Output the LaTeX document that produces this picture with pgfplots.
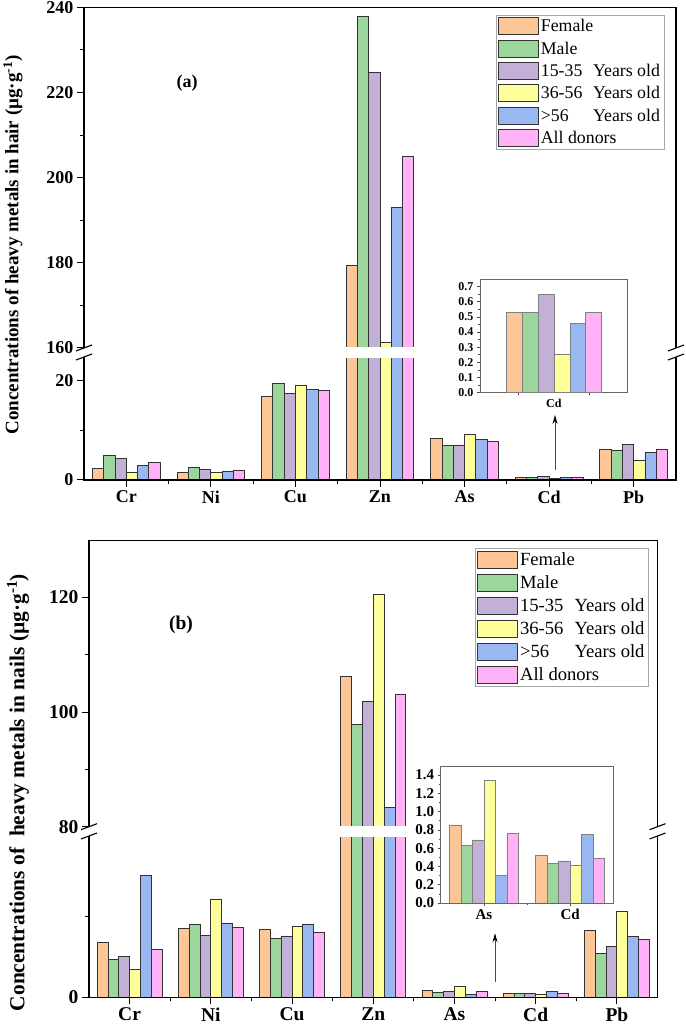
\documentclass[border=0pt]{standalone}
\usepackage{pgfplots}
\pgfplotsset{compat=1.18}
\usepackage{pgfplotstable}
\usepackage{fontspec}
\setmainfont{Liberation Serif}
\usetikzlibrary{arrows.meta}

\definecolor{cF}{RGB}{252,198,150}
\definecolor{cM}{RGB}{156,214,156}
\definecolor{cA}{RGB}{194,176,214}
\definecolor{cB}{RGB}{255,255,153}
\definecolor{cC}{RGB}{153,183,240}
\definecolor{cD}{RGB}{255,178,245}

% hair (a)
\pgfplotstableread{
x F M A B C D
0 2.36 5.05 4.44 1.48 2.96 3.50
1 1.55 2.63 2.22 1.48 1.82 1.95
2 16.9 19.46 17.5 19.1 18.3 18.0
3 179.3 237.9 224.8 161.2 193.0 204.9
4 8.35 6.9 7.07 9.3 8.2 7.7
5 0.53 0.53 0.65 0.25 0.455 0.53
6 6.2 6.06 7.2 3.9 5.6 6.13
}\hair
\pgfplotstableread{
x F M A B C D
3 179.3 237.9 224.8 161.2 193.0 204.9
}\hairZn
\pgfplotstableread{
x F M A B C D
0 0.53 0.53 0.65 0.25 0.455 0.53
}\hairCd
% nails (b)
\pgfplotstableread{
x F M A B C D
0 6.83 4.65 5.02 3.5 15.06 6.0
1 8.52 9.1 7.7 12.19 9.22 8.68
2 8.43 7.28 7.61 8.77 9.1 8.02
3 106.2 97.9 101.9 120.6 83.4 103.1
4 0.856 0.632 0.69 1.338 0.298 0.764
5 0.52 0.434 0.46 0.415 0.75 0.49
6 8.27 5.47 6.3 10.6 7.53 7.2
}\nails
\pgfplotstableread{
x F M A B C D
3 106.2 97.9 101.9 120.6 83.4 103.1
}\nailsZn
\pgfplotstableread{
x F M A B C D
0 0.856 0.632 0.69 1.338 0.298 0.764
1 0.52 0.434 0.46 0.415 0.75 0.49
}\nailsAsCd

\pgfplotsset{
  b1/.style={fill=cF, bar shift=-0.3333},
  b2/.style={fill=cM, bar shift=-0.2},
  b3/.style={fill=cA, bar shift=-0.0667},
  b4/.style={fill=cB, bar shift=0.0667},
  b5/.style={fill=cC, bar shift=0.2},
  b6/.style={fill=cD, bar shift=0.3333},
  main/.style={scale only axis, anchor=south west, ybar, bar width=0.1333,
    xmin=-0.5, xmax=6.5, axis line style={draw=none},
    tick align=outside, ytick pos=left, xtick pos=bottom,
    major tick length=7pt, minor tick length=4pt,
    tick style={black, line width=1pt},
    /pgf/number format/assume math mode=true,
    every axis plot/.append style={draw=black!80, line width=0.8pt}},
  inset/.style={scale only axis, anchor=south west, ybar, bar width=0.1333,
    axis line style={draw=gray!80!black, line width=0.7pt},
    tick align=outside, ytick pos=left, xtick pos=bottom,
    major tick length=3pt, minor tick length=2pt,
    tick style={gray!60!black, line width=0.6pt},
    /pgf/number format/assume math mode=true,
    yticklabel style={/pgf/number format/.cd, fixed, fixed zerofill, precision=1},
    ymin=0, minor y tick num=1,
    every axis plot/.append style={draw=gray, line width=0.6pt}},
  legbox/.style={legend image code/.code={\draw[##1] (0pt,-8.5pt) rectangle (40pt,8.5pt);}},
}

\newcommand{\plotall}[1]{%
  \addplot[b1] table[x=x,y=F]{#1};
  \addplot[b2] table[x=x,y=M]{#1};
  \addplot[b3] table[x=x,y=A]{#1};
  \addplot[b4] table[x=x,y=B]{#1};
  \addplot[b5] table[x=x,y=C]{#1};
  \addplot[b6] table[x=x,y=D]{#1};}

\begin{document}
\begin{tikzpicture}
\useasboundingbox (0,0) rectangle (685pt,1030pt);

% ---------- (a) hair ----------
\begin{axis}[main, name=loA, at={(84pt,550pt)}, width=592pt, height=123pt,
  ymin=0, ymax=24.85, ytick={0,20}, minor ytick={10},
  xtick={0,...,6}, xticklabels={Cr,Ni,Cu,Zn,As,Cd,Pb}, minor xtick={0.5,1.5,...,5.5},
  tick label style={font=\bfseries\fontsize{18}{18}\selectfont}]
\plotall{\hair}
\end{axis}

\begin{axis}[main, name=upA, at={(84pt,682pt)}, width=592pt, height=340.7pt,
  ymin=160, ymax=240, ytick={160,180,...,240}, minor y tick num=1, xtick=\empty,
  tick label style={font=\bfseries\fontsize{18}{18}\selectfont},
  legbox,
  legend style={at={(0.6954,0.9774)}, anchor=north west, draw=gray!70, line width=0.8pt,
    font=\fontsize{17.8}{18}\selectfont, inner sep=1.5pt, row sep=3.5pt,
    cells={anchor=west}, nodes={inner sep=2.5pt}}]
\plotall{\hairZn}
\legend{Female, Male, \makebox[2.93em][l]{15-35}Years old,
  \makebox[2.93em][l]{36-56}Years old, \makebox[2.93em][l]{>56}Years old, All donors}
\end{axis}

% break band across the Zn bars
\fill[white] (343pt,672pt) rectangle (417pt,683pt);

\begin{axis}[inset, at={(480pt,637.3pt)}, width=147.7pt, height=113.7pt,
  xmin=-0.617, xmax=0.617, ymax=0.75, ytick={0,0.1,...,0.7},
  xtick={0}, xticklabels={Cd}, minor xtick={-0.3,0.3},
  every major x tick/.append style={draw=none},
  tick label style={font=\bfseries\fontsize{12}{12}\selectfont}]
\plotall{\hairCd}
\end{axis}

\draw[line width=1.3pt] (upA.south west) -- (upA.north west) -- (upA.north east) -- (upA.south east);
\draw[line width=1.3pt] (loA.north west) -- (loA.south west) -- (loA.south east) -- (loA.north east);
\draw[line width=1.1pt] (76pt,679pt) -- (92pt,685pt) (76pt,670pt) -- (92pt,676pt);
\draw[line width=1.1pt] (668pt,679pt) -- (684pt,685pt) (668pt,670pt) -- (684pt,676pt);
\draw[gray!60!black, line width=0.7pt, -{Stealth[length=9pt,width=5pt,black]}] (555pt,560pt) -- (555pt,615pt);
\node[font=\bfseries\fontsize{18}{18}\selectfont] at (187pt,947pt) {(a)};
\node[rotate=90, font=\bfseries\fontsize{19}{19}\selectfont] at (13pt,785pt)
  {Concentrations of heavy metals in hair (µg·g\textsuperscript{-1})};

% ---------- (b) nails ----------
\begin{axis}[main, name=loB, at={(89pt,32.7pt)}, width=568.5pt, height=161.3pt,
  ymin=0, ymax=20, ytick={0}, minor ytick={10},
  xtick={0,...,6}, xticklabels={Cr,Ni,Cu,Zn,As,Cd,Pb}, minor xtick={0.5,1.5,...,5.5},
  tick label style={font=\bfseries\fontsize{19.5}{19.5}\selectfont}]
\plotall{\nails}
\end{axis}

\begin{axis}[main, name=upB, at={(89pt,203.3pt)}, width=568.5pt, height=286.5pt,
  ymin=80, ymax=130, ytick={80,100,120}, minor ytick={90,110}, xtick=\empty,
  tick label style={font=\bfseries\fontsize{19.5}{19.5}\selectfont},
  legbox,
  legend style={at={(0.6785,0.9714)}, anchor=north west, draw=gray!70, line width=0.8pt,
    font=\fontsize{18.6}{19}\selectfont, inner sep=1.5pt, row sep=3.2pt,
    cells={anchor=west}, nodes={inner sep=2.7pt}}]
\plotall{\nailsZn}
\legend{Female, Male, \makebox[2.93em][l]{15-35}Years old,
  \makebox[2.93em][l]{36-56}Years old, \makebox[2.93em][l]{>56}Years old, All donors}
\end{axis}

% break band across the Zn bars
\fill[white] (337pt,193pt) rectangle (409pt,204.3pt);

\begin{axis}[inset, at={(440.7pt,127pt)}, width=172.6pt, height=137pt,
  xmin=-0.5, xmax=1.5, ymax=1.5, ytick={0,0.2,...,1.4},
  xtick={0,1}, xticklabels={As,Cd}, minor xtick={0.5},
  tick label style={font=\bfseries\fontsize{15}{15}\selectfont}]
\plotall{\nailsAsCd}
\end{axis}

\draw[line width=1.3pt] (upB.south west) -- (upB.north west) -- (upB.north east) -- (upB.south east);
\draw[line width=1.3pt] (loB.north west) -- (loB.south west) -- (loB.south east) -- (loB.north east);
\draw[line width=1.1pt] (81pt,200.3pt) -- (97pt,206.3pt) (81pt,191pt) -- (97pt,197pt);
\draw[line width=1.1pt] (649.5pt,200.3pt) -- (665.5pt,206.3pt) (649.5pt,191pt) -- (665.5pt,197pt);
\draw[gray!60!black, line width=0.7pt, -{Stealth[length=9pt,width=5pt,black]}] (495pt,48.3pt) -- (495pt,96.7pt);
\node[font=\bfseries\fontsize{19.5}{19.5}\selectfont] at (181pt,405pt) {(b)};
\node[rotate=90, font=\bfseries\fontsize{21.4}{21.4}\selectfont] at (18pt,237.5pt)
  {Concentrations of\ \ heavy metals in nails (µg·g\textsuperscript{-1})};
\end{tikzpicture}
\end{document}
